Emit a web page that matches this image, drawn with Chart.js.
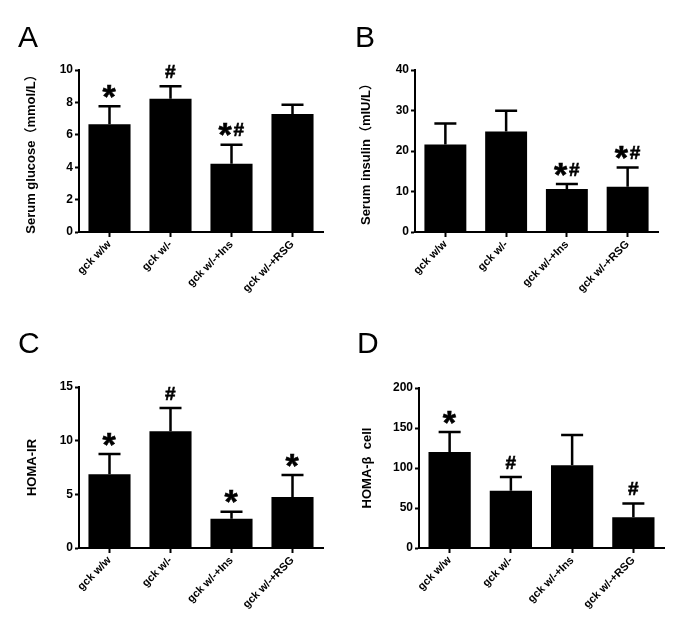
<!DOCTYPE html>
<html>
<head>
<meta charset="utf-8">
<script src="https://cdn.jsdelivr.net/npm/chart.js@4.4.1/dist/chart.umd.min.js"></script>
<style>
  html, body { margin: 0; padding: 0; background: #fff; }
  #wrap { position: relative; width: 685px; height: 629px; background: #fff; }
  #wrap canvas { position: absolute; }
</style>
</head>
<body>
<div id="wrap">
  <canvas id="panelA" width="340" height="314" style="left:0;top:0"></canvas>
  <canvas id="panelB" width="345" height="314" style="left:340px;top:0"></canvas>
  <canvas id="panelC" width="340" height="315" style="left:0;top:314px"></canvas>
  <canvas id="panelD" width="345" height="315" style="left:340px;top:314px"></canvas>
</div>
<script>
const GROUPS = ["gck w/w", "gck w/-", "gck w/-+Ins", "gck w/-+RSG"];

// A: serum glucose
const GLUCOSE_MEAN  = [6.65, 8.22, 4.22, 7.28];
const GLUCOSE_SD    = [1.12, 0.77, 1.17, 0.57];
const GLUCOSE_MARKS = ["*", "#", "*#", ""];
const GLUCOSE_TICKS = [0, 2, 4, 6, 8, 10];

// B: serum insulin
const INSULIN_MEAN  = [21.6, 24.8, 10.6, 11.2];
const INSULIN_SD    = [5.2, 5.15, 1.25, 4.75];
const INSULIN_MARKS = ["", "", "*#", "*#"];
const INSULIN_TICKS = [0, 10, 20, 30, 40];

// C: HOMA-IR
const IR_MEAN  = [6.86, 10.88, 2.72, 4.76];
const IR_SD    = [1.89, 2.16, 0.65, 2.04];
const IR_MARKS = ["*", "#", "*", "*"];
const IR_TICKS = [0, 5, 10, 15];

// D: HOMA-beta cell
const BETA_MEAN  = [120, 71.7, 103.4, 38.3];
const BETA_SD    = [25, 16.9, 38, 17.4];
const BETA_MARKS = ["*", "#", "", "#"];
const BETA_TICKS = [0, 50, 100, 150, 200];

const FAMILY = "Arial, 'Liberation Sans', 'Noto Sans CJK SC', sans-serif";
Chart.defaults.font.family = FAMILY;
Chart.defaults.color = "#000";

function drawMarks(ctx, text, cx, cy){
  if(!text) return;
  const parts = text.split("").map((ch) => {
    ctx.font = ch === "*" ? `bold 34px ${FAMILY}` : `bold 19px ${FAMILY}`;
    const m = ctx.measureText(ch);
    return { ch, font: ctx.font, m, w: m.actualBoundingBoxLeft + m.actualBoundingBoxRight };
  });
  const gap   = 1;
  const total = parts.reduce((s, p) => s + p.w, 0) + gap * (parts.length - 1);
  let x = cx - total / 2;
  ctx.textAlign = "left";
  ctx.textBaseline = "alphabetic";
  parts.forEach((p) => {
    ctx.font = p.font;
    const base = cy + (p.m.actualBoundingBoxAscent - p.m.actualBoundingBoxDescent) / 2;
    ctx.fillText(p.ch, x + p.m.actualBoundingBoxLeft, base);
    // a touch heavier, like the original export
    ctx.strokeText(p.ch, x + p.m.actualBoundingBoxLeft, base);
    x += p.w + gap;
  });
}

const errorBars = {
  id: "errorBars",
  afterDatasetsDraw(chart){
    const { ctx, scales: { y } } = chart;
    const ds   = chart.data.datasets[0];
    const meta = chart.getDatasetMeta(0);
    ctx.save();
    ctx.strokeStyle = "#000";
    ctx.fillStyle = "#000";
    ctx.lineWidth = 2.5;
    meta.data.forEach((bar, i) => {
      const top = y.getPixelForValue(ds.data[i] + ds.sd[i]);
      ctx.beginPath();
      ctx.moveTo(bar.x, bar.y);
      ctx.lineTo(bar.x, top);
      ctx.moveTo(bar.x - 11, top);
      ctx.lineTo(bar.x + 11, top);
      ctx.stroke();
      ctx.lineWidth = 0.6;
      drawMarks(ctx, ds.marks[i], bar.x, top - 15);
      ctx.lineWidth = 2.5;
    });
    ctx.restore();
  }
};

const panelLetter = {
  id: "panelLetter",
  afterDraw(chart){
    const { ctx } = chart;
    const p = chart.config.options.panel;
    ctx.save();
    ctx.font = `30px ${FAMILY}`;
    ctx.fillStyle = "#000";
    ctx.textBaseline = "alphabetic";
    ctx.fillText(p.letter, p.lx, p.ly);
    ctx.restore();
  }
};

function makePanel(id, mean, sd, marks, ticks, title, panel){
  new Chart(document.getElementById(id), {
    type: "bar",
    data: {
      labels: GROUPS,
      datasets: [{
        data: mean,
        sd,
        marks,
        backgroundColor: "#000",
        borderWidth: 0,
        barPercentage: 0.69,
        categoryPercentage: 1
      }]
    },
    plugins: [errorBars, panelLetter],
    options: {
      panel,
      responsive: false,
      animation: false,
      events: [],
      layout: { padding: { top: panel.top, right: panel.right, left: 0, bottom: 0 } },
      plugins: { legend: { display: false }, tooltip: { enabled: false } },
      scales: {
        x: {
          offset: true,
          grid: { display: true, offset: false, drawOnChartArea: false, tickLength: 5, tickWidth: 2, tickColor: "#000" },
          border: { display: true, color: "#000", width: 2 },
          ticks: { maxRotation: 45, minRotation: 45, padding: 1, font: { size: 11, weight: "bold" }, color: "#000" },
          afterFit: (s) => { s.height = panel.xh; }
        },
        y: {
          min: ticks[0],
          max: ticks[ticks.length - 1],
          grid: { drawOnChartArea: false, tickLength: 4, tickWidth: 2, tickColor: "#000" },
          border: { display: true, color: "#000", width: 2 },
          ticks: { stepSize: ticks[1] - ticks[0], padding: 2, font: { size: 12, weight: "bold" }, color: "#000" },
          title: { display: true, text: title, padding: { top: panel.tp, bottom: 0 }, font: { size: 13, weight: "bold" }, color: "#000" },
          afterFit: (s) => { s.width = panel.yw; }
        }
      }
    }
  });
}

makePanel("panelA", GLUCOSE_MEAN, GLUCOSE_SD, GLUCOSE_MARKS, GLUCOSE_TICKS, "Serum glucose（mmol/L）",
  { letter: "A", lx: 18, ly: 47, top: 70, right: 17, xh: 82, yw: 79, tp: 24 });
makePanel("panelB", INSULIN_MEAN, INSULIN_SD, INSULIN_MARKS, INSULIN_TICKS, "Serum insulin（mIU/L）",
  { letter: "B", lx: 15, ly: 47, top: 70, right: 27, xh: 82, yw: 75, tp: 19 });
makePanel("panelC", IR_MEAN, IR_SD, IR_MARKS, IR_TICKS, "HOMA-IR",
  { letter: "C", lx: 18, ly: 39, top: 73, right: 17, xh: 81, yw: 79, tp: 25 });
makePanel("panelD", BETA_MEAN, BETA_SD, BETA_MARKS, BETA_TICKS, "HOMA-β  cell",
  { letter: "D", lx: 17, ly: 39, top: 74, right: 21, xh: 81, yw: 79, tp: 20 });
</script>
</body>
</html>
